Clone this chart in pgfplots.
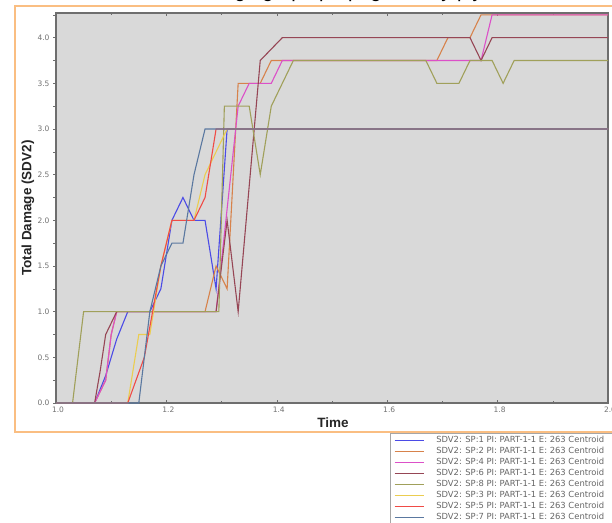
\documentclass[border=0pt]{standalone}
\usepackage{pgfplots}
\pgfplotsset{compat=1.18}
\usepackage{fontspec}
\setmainfont{Liberation Sans}
\newfontfamily\djv{DejaVu Sans}
\definecolor{cA}{RGB}{75,75,230}
\definecolor{cB}{RGB}{215,130,75}
\definecolor{cD}{RGB}{220,80,200}
\definecolor{cF}{RGB}{150,70,85}
\definecolor{cH}{RGB}{160,160,90}
\definecolor{cC}{RGB}{235,205,80}
\definecolor{cE}{RGB}{240,75,70}
\definecolor{cG}{RGB}{90,120,160}
\definecolor{frame}{RGB}{250,190,130}
\definecolor{bg}{RGB}{217,217,217}
\definecolor{axc}{RGB}{110,110,110}
\begin{document}
\begin{tikzpicture}
\useasboundingbox (0pt,0pt) rectangle (612pt,522pt);
\clip (0pt,0pt) rectangle (612pt,522pt);
\fill[white] (0pt,0pt) rectangle (612pt,522pt);
\draw[frame, line width=1.5pt] (15pt,90pt) rectangle (640pt,516pt);
\node[anchor=base, font=\fontsize{20}{22}\selectfont] at (332pt,524.5pt) {Damage graph propagation by ply};
\begin{axis}[
  at={(56pt,119pt)}, anchor=south west,
  scale only axis, width=552pt, height=390pt,
  xmin=1, xmax=2, ymin=0, ymax=4.27,
  axis background/.style={fill=bg},
  axis line style={axc, line width=1.2pt},
  xtick={1,1.2,1.4,1.6,1.8,2.0},
  minor xtick={1.1,1.3,1.5,1.7,1.9},
  ytick={0,0.5,1,1.5,2,2.5,3,3.5,4},
  minor ytick={0.25,0.75,1.25,1.75,2.25,2.75,3.25,3.75,4.25},
  tick align=inside,
  major tick length=3pt, minor tick length=2pt,
  tick style={axc, line width=0.6pt},
  ytick pos=left,
  y tick style={xshift=-3pt},
  /pgf/number format/assume math mode=true,
  /pgf/number format/.cd, fixed, fixed zerofill, precision=1, /pgfplots/.cd,
  tick label style={font=\djv\fontsize{7.5}{9}\selectfont, text=gray!90!black},
  yticklabel style={xshift=-3pt},
  xticklabel style={xshift=2pt},
  xlabel={Time}, ylabel={Total Damage (SDV2)},
  every axis x label/.style={at={(axis description cs:0.502,-0.051)}, anchor=center, font=\bfseries\fontsize{13.5}{15}\selectfont, text=black!85},
  every axis y label/.style={at={(axis description cs:-0.051,0.5)}, rotate=90, anchor=center, font=\bfseries\fontsize{13.5}{15}\selectfont, text=black!85},
  legend cell align=left,
  legend style={at={(0.605,-0.077)}, anchor=north west, draw=gray!70, fill=white,
    font=\djv\fontsize{8.4}{9}\selectfont, text=gray!80!black,
    nodes={inner ysep=1pt, inner xsep=4pt}, row sep=1.15pt, inner xsep=4pt, inner ysep=2pt,
    /tikz/every odd column/.append style={column sep=8pt}},
  legend image code/.code={\draw[#1] (0pt,0pt) -- (29pt,0pt);},
  every axis plot/.append style={line width=1.1pt},
]
\addplot[cA] coordinates {(1.0,0)(1.07,0)(1.09,0.3)(1.11,0.7)(1.13,1.0)(1.17,1.0)(1.19,1.25)(1.21,2.0)(1.23,2.25)(1.25,2.0)(1.27,2.0)(1.29,1.25)(1.31,3.0)(2.0,3.0)};
\addlegendentry{SDV2: SP:1 PI: PART-1-1 E: 263 Centroid}
\addplot[cB] coordinates {(1.0,0)(1.07,0)(1.09,0.25)(1.10,0.75)(1.11,1.0)(1.27,1.0)(1.29,1.5)(1.31,1.25)(1.33,3.5)(1.37,3.5)(1.39,3.75)(1.69,3.75)(1.71,4.0)(1.75,4.0)(1.77,4.25)(2.0,4.25)};
\addlegendentry{SDV2: SP:2 PI: PART-1-1 E: 263 Centroid}
\addplot[cD] coordinates {(1.0,0)(1.07,0)(1.09,0.25)(1.10,0.75)(1.11,1.0)(1.29,1.0)(1.33,3.25)(1.35,3.5)(1.39,3.5)(1.41,3.75)(1.77,3.75)(1.79,4.25)(2.0,4.25)};
\addlegendentry{SDV2: SP:4 PI: PART-1-1 E: 263 Centroid}
\addplot[cF] coordinates {(1.0,0)(1.07,0)(1.08,0.35)(1.09,0.75)(1.10,0.875)(1.11,1.0)(1.29,1.0)(1.31,2.0)(1.33,1.0)(1.37,3.75)(1.41,4.0)(1.75,4.0)(1.77,3.75)(1.79,4.0)(2.0,4.0)};
\addlegendentry{SDV2: SP:6 PI: PART-1-1 E: 263 Centroid}
\addplot[cH] coordinates {(1.0,0)(1.03,0)(1.05,1.0)(1.295,1.0)(1.305,3.25)(1.35,3.25)(1.37,2.5)(1.39,3.25)(1.43,3.75)(1.67,3.75)(1.69,3.5)(1.73,3.5)(1.75,3.75)(1.79,3.75)(1.81,3.5)(1.83,3.75)(2.0,3.75)};
\addlegendentry{SDV2: SP:8 PI: PART-1-1 E: 263 Centroid}
\addplot[cC] coordinates {(1.0,0)(1.13,0)(1.15,0.75)(1.17,0.75)(1.19,1.5)(1.21,2.0)(1.25,2.0)(1.27,2.5)(1.29,2.75)(1.31,3.0)(2.0,3.0)};
\addlegendentry{SDV2: SP:3 PI: PART-1-1 E: 263 Centroid}
\addplot[cE] coordinates {(1.0,0)(1.13,0)(1.145,0.25)(1.16,0.5)(1.19,1.5)(1.21,2.0)(1.25,2.0)(1.27,2.25)(1.29,3.0)(2.0,3.0)};
\addlegendentry{SDV2: SP:5 PI: PART-1-1 E: 263 Centroid}
\addplot[cG] coordinates {(1.0,0)(1.15,0)(1.17,1.0)(1.19,1.5)(1.21,1.75)(1.23,1.75)(1.25,2.5)(1.27,3.0)(2.0,3.0)};
\addlegendentry{SDV2: SP:7 PI: PART-1-1 E: 263 Centroid}
\end{axis}
\end{tikzpicture}
\end{document}
